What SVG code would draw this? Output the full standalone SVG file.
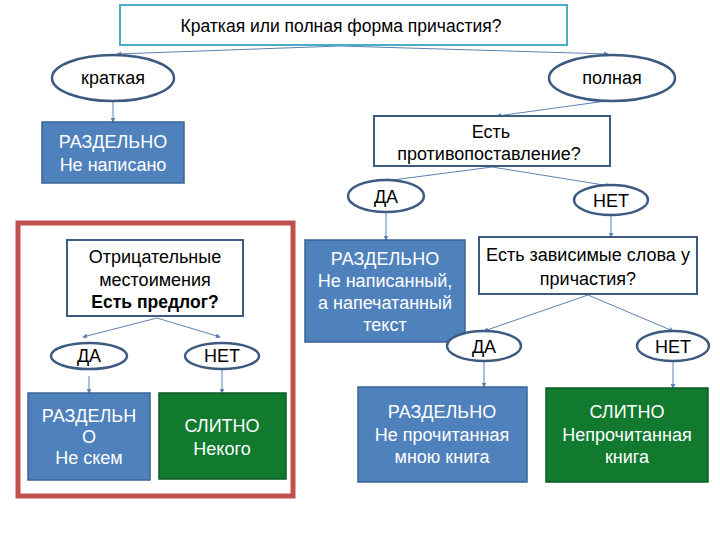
<svg xmlns="http://www.w3.org/2000/svg" width="720" height="540" viewBox="0 0 720 540">
<defs>
<style>
text{font-family:"Liberation Sans",Arial,sans-serif;text-anchor:middle;}
.q{fill:#fff;stroke:#3d5a80;stroke-width:2;}
.ov{fill:#fff;stroke:#3d5a80;stroke-width:2.5;}
.blue{fill:#4f81bd;stroke:#3a6494;stroke-width:1.5;}
.green{fill:#117a2f;stroke:#0d5c23;stroke-width:1.5;}
.dk{fill:#000;font-size:18px;}
.wt{fill:#fff;font-size:18px;}
.cn{stroke:#5b82b3;stroke-width:1;fill:none;marker-end:url(#ah);}
</style>
<marker id="ah" viewBox="0 0 6 6" refX="5" refY="3" markerWidth="5" markerHeight="5" orient="auto"><path d="M0,0 L6,3 L0,6 z" fill="#5b82b3"/></marker>
</defs>
<rect width="720" height="540" fill="#fff"/>

<g id="connectors">
<line class="cn" x1="340" y1="46" x2="117" y2="54"/>
<line class="cn" x1="340" y1="46" x2="608" y2="54"/>
<line class="cn" x1="113" y1="101" x2="113" y2="122"/>
<line class="cn" x1="606" y1="101" x2="497" y2="116"/>
<line class="cn" x1="492" y1="167" x2="385" y2="181"/>
<line class="cn" x1="492" y1="167" x2="610" y2="186"/>
<line class="cn" x1="386" y1="212" x2="386" y2="240"/>
<line class="cn" x1="611" y1="215" x2="611" y2="237"/>
<line class="cn" x1="588" y1="295" x2="484" y2="331"/>
<line class="cn" x1="588" y1="295" x2="673" y2="331"/>
<line class="cn" x1="484" y1="362" x2="484" y2="387"/>
<line class="cn" x1="673" y1="362" x2="673" y2="388"/>
<line class="cn" x1="157" y1="318" x2="83" y2="337"/>
<line class="cn" x1="157" y1="318" x2="220" y2="337"/>
<line class="cn" x1="89" y1="376" x2="89" y2="393"/>
<line class="cn" x1="222" y1="370" x2="222" y2="393"/>
</g>

<g id="top">
<rect x="120" y="5" width="447" height="40" fill="#fff" stroke="#4bacc6" stroke-width="2"/>
<text class="dk" x="341" y="32" style="font-size:17.5px">Краткая или полная форма причастия?</text>
</g>

<g id="kratkaya">
<ellipse class="ov" cx="113" cy="78" rx="61" ry="23"/>
<text class="dk" x="113" y="84">краткая</text>
</g>
<g id="polnaya">
<ellipse class="ov" cx="612" cy="78" rx="63" ry="23"/>
<text class="dk" x="612" y="84">полная</text>
</g>

<g id="razdelno1">
<rect class="blue" x="42" y="122" width="142" height="61"/>
<text class="wt" x="113" y="148">РАЗДЕЛЬНО</text>
<text class="wt" x="113" y="171">Не написано</text>
</g>

<g id="protiv">
<rect class="q" x="374" y="116" width="236" height="50"/>
<text class="dk" x="491" y="138">Есть</text>
<text class="dk" x="489" y="160">противопоставление?</text>
</g>

<g id="da1">
<ellipse class="ov" cx="386" cy="196" rx="38" ry="16"/>
<text class="dk" x="386" y="203">ДА</text>
</g>
<g id="net1">
<ellipse class="ov" cx="611" cy="200" rx="37" ry="15"/>
<text class="dk" x="611" y="207">НЕТ</text>
</g>

<g id="razdelno2">
<rect class="blue" x="305" y="240" width="160" height="102"/>
<text class="wt" x="385" y="265">РАЗДЕЛЬНО</text>
<text class="wt" x="385" y="287">Не написанный,</text>
<text class="wt" x="385" y="309">а напечатанный</text>
<text class="wt" x="385" y="331">текст</text>
</g>

<g id="zavis">
<rect class="q" x="479" y="237" width="218" height="57"/>
<text class="dk" x="588" y="261">Есть зависимые слова у</text>
<text class="dk" x="588" y="285">причастия?</text>
</g>

<g id="da2">
<ellipse class="ov" cx="484" cy="346" rx="37" ry="15"/>
<text class="dk" x="484" y="353">ДА</text>
</g>
<g id="net2">
<ellipse class="ov" cx="673" cy="346" rx="36" ry="15"/>
<text class="dk" x="673" y="353">НЕТ</text>
</g>

<g id="razdelno3">
<rect class="blue" x="358" y="387" width="169" height="95"/>
<text class="wt" x="442" y="418">РАЗДЕЛЬНО</text>
<text class="wt" x="442" y="441">Не прочитанная</text>
<text class="wt" x="442" y="463">мною книга</text>
</g>
<g id="slitno1">
<rect class="green" x="546" y="388" width="162" height="94"/>
<text class="wt" x="627" y="418">СЛИТНО</text>
<text class="wt" x="627" y="441">Непрочитанная</text>
<text class="wt" x="627" y="463">книга</text>
</g>

<g id="frame">
<rect x="18" y="223" width="275" height="273" fill="none" stroke="#c0504d" stroke-width="5"/>
</g>

<g id="otric">
<rect class="q" x="67" y="240" width="176" height="76"/>
<text class="dk" x="155" y="263">Отрицательные</text>
<text class="dk" x="155" y="286">местоимения</text>
<text class="dk" x="155" y="308" font-weight="bold" style="font-size:17.5px">Есть предлог?</text>
</g>
<g id="da3">
<ellipse class="ov" cx="89" cy="356" rx="38" ry="13"/>
<text class="dk" x="89" y="362">ДА</text>
</g>
<g id="net3">
<ellipse class="ov" cx="222" cy="356" rx="37" ry="13"/>
<text class="dk" x="222" y="362">НЕТ</text>
</g>
<g id="razdelno4">
<rect class="blue" x="28" y="393" width="122" height="87"/>
<text class="wt" x="89" y="422">РАЗДЕЛЬН</text>
<text class="wt" x="89" y="443">О</text>
<text class="wt" x="89" y="464">Не скем</text>
</g>
<g id="slitno2">
<rect class="green" x="159" y="393" width="127" height="86"/>
<text class="wt" x="222" y="432">СЛИТНО</text>
<text class="wt" x="222" y="455">Некого</text>
</g>
</svg>
